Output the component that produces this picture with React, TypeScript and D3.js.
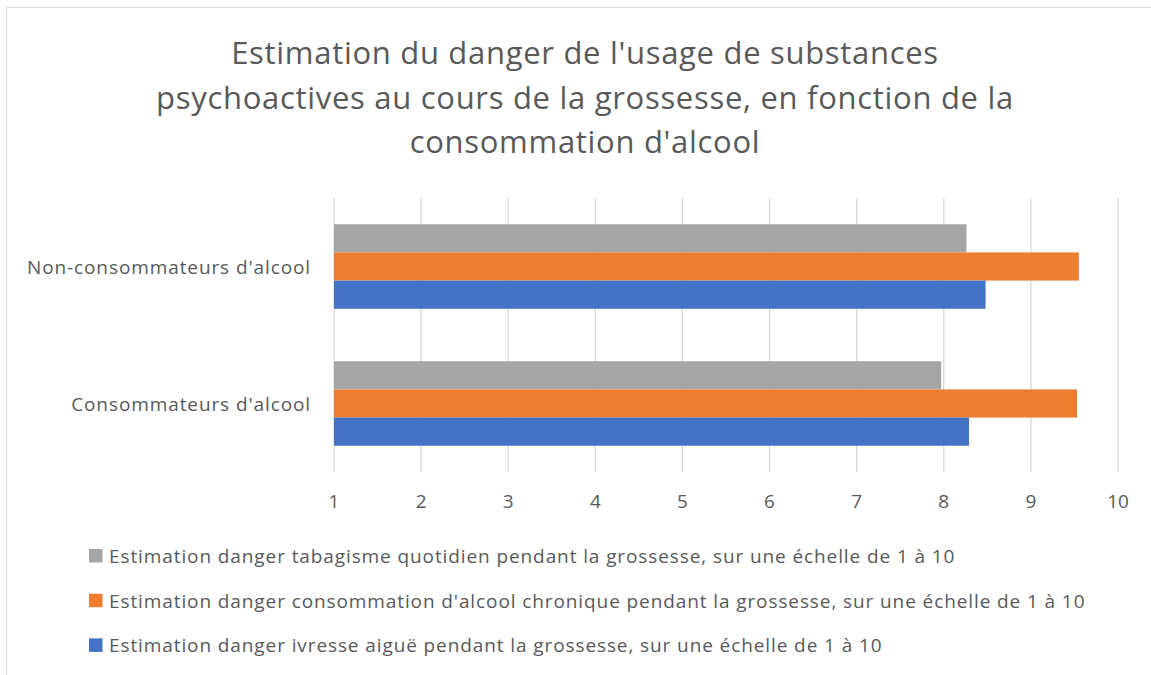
import React from "react";
import * as d3 from "d3";

const categories = ["Non-consommateurs d'alcool", "Consommateurs d'alcool"];
const seriesNames = [
  "Estimation danger tabagisme quotidien pendant la grossesse, sur une échelle de 1 à 10",
  "Estimation danger consommation d'alcool chronique pendant la grossesse, sur une échelle de 1 à 10",
  "Estimation danger ivresse aiguë pendant la grossesse, sur une échelle de 1 à 10",
];
const seriesColors = ["#A5A5A5", "#ED7D31", "#4472C4"];
const tabacValues = [8.26, 7.97];
const alcoolChroniqueValues = [9.55, 9.53];
const ivresseValues = [8.48, 8.29];
const xTicks = [1, 2, 3, 4, 5, 6, 7, 8, 9, 10];
const titleLines = [
  "Estimation du danger de l'usage de substances",
  "psychoactives au cours de la grossesse, en fonction de la",
  "consommation d'alcool",
];

const W = 1151;
const H = 675;
const FONT = "'Open Sans', sans-serif";

export default function App() {
  const series = [tabacValues, alcoolChroniqueValues, ivresseValues];
  const x = d3.scaleLinear().domain([1, 10]).range([334, 1118]);
  const y = d3
    .scaleBand<string>()
    .domain(categories)
    .range([198, 472])
    .paddingInner(0.383)
    .paddingOuter(0.1915);
  const inner = d3
    .scaleBand<number>()
    .domain([0, 1, 2])
    .range([0, y.bandwidth()]);

  return (
    <svg
      width={W}
      height={H}
      style={{ position: "absolute", left: 0, top: 0, background: "#fff" }}
      fontFamily={FONT}
    >
      <rect x={0} y={0} width={W} height={H} fill="#fff" />
      <rect x={6.5} y={7.5} width={W + 10} height={H + 10} fill="none" stroke="#D9D9D9" strokeWidth={1} />
      {titleLines.map((t, i) => (
        <text
          key={i}
          x={585}
          y={64 + i * 44.5}
          textAnchor="middle"
          fontSize={31}
          letterSpacing={0.7}
          fill="#595959"
        >
          {t}
        </text>
      ))}
      {xTicks.map((t) => (
        <g key={t}>
          <line x1={x(t)} x2={x(t)} y1={198} y2={472} stroke="#D9D9D9" strokeWidth={1.3} />
          <text x={x(t)} y={508} textAnchor="middle" fontSize={19} fill="#595959">
            {t}
          </text>
        </g>
      ))}
      {categories.map((c, ci) => (
        <g key={c}>
          <text
            x={311}
            y={(y(c) ?? 0) + y.bandwidth() / 2 + 7}
            textAnchor="end"
            fontSize={19}
            letterSpacing={0.9}
            fill="#595959"
          >
            {c}
          </text>
          {series.map((vals, si) => (
            <rect
              key={si}
              x={x(1)}
              y={(y(c) ?? 0) + (inner(si) ?? 0)}
              width={x(vals[ci]) - x(1)}
              height={inner.bandwidth()}
              fill={seriesColors[si]}
            />
          ))}
        </g>
      ))}
      {seriesNames.map((n, i) => (
        <g key={n}>
          <rect x={89} y={549 + i * 44.7} width={13.5} height={13.5} fill={seriesColors[i]} />
          <text x={109} y={563 + i * 44.7} fontSize={19} letterSpacing={0.9} fill="#595959">
            {n}
          </text>
        </g>
      ))}
    </svg>
  );
}
